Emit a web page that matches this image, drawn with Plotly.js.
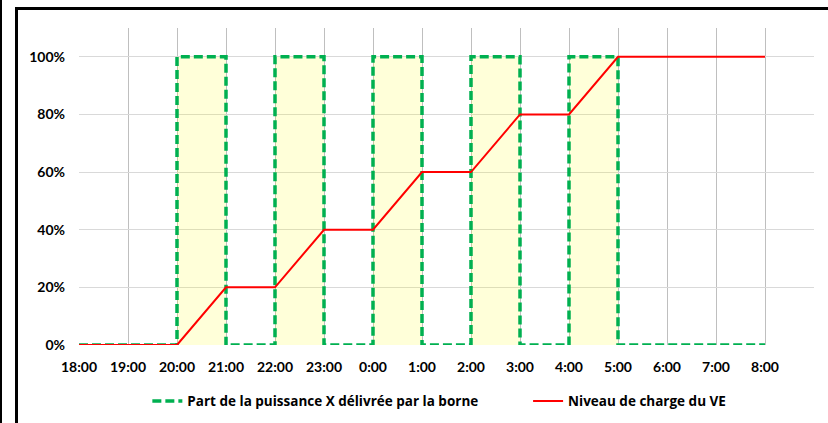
<!DOCTYPE html>
<html>
<head>
<meta charset="utf-8">
<script src="https://cdn.plot.ly/plotly-3.0.1.min.js"></script>
<style>
html,body{margin:0;padding:0;background:#fff;}
#wrap{position:relative;width:828px;height:423px;overflow:hidden;}
#chart{position:absolute;left:0;top:0;width:828px;height:423px;}
#f1{position:absolute;left:0;top:0;width:2px;height:423px;background:#000;}
#f2{position:absolute;left:15px;top:7px;width:813px;height:416px;border-left:3px solid #000;border-top:3px solid #000;box-sizing:border-box;pointer-events:none;}
</style>
</head>
<body>
<div id="wrap">
<div id="chart"></div>
<div id="f1"></div>
<div id="f2"></div>
</div>
<script>
// Data
const hours = ["18:00","19:00","20:00","21:00","22:00","23:00","0:00","1:00","2:00","3:00","4:00","5:00","6:00","7:00","8:00"];
const puissance = [0,0,1,0,1,0,1,0,1,0,1,0,0,0,0];
const niveauCharge = [0,0,0,0.2,0.2,0.4,0.4,0.6,0.6,0.8,0.8,1,1,1,1];
const yTicks = [0,0.2,0.4,0.6,0.8,1];
const yTickText = ["0%","20%","40%","60%","80%","100%"];
const seriesNames = ["Part de la puissance X délivrée par la borne","Niveau de charge du VE"];

const xIdx = hours.map((h,i)=>i);
const font = {family:"Lato, 'Liberation Sans', sans-serif", size:14, color:"#000", weight:700};
const legendFont = {family:"'Open Sans', Lato, sans-serif", size:13.5, color:"#000", weight:700};

const traces = [
  {x:xIdx, y:puissance, type:"scatter", mode:"lines", line:{shape:"hv", width:0, color:"rgba(0,0,0,0)"},
   fill:"tozeroy", fillcolor:"rgba(255,255,0,0.15)", showlegend:false, hoverinfo:"skip"},
  {x:xIdx, y:puissance, type:"scatter", mode:"lines", name:seriesNames[0], legend:"legend",
   line:{shape:"hv", color:"#00b050", width:3.5, dash:"9px,4px"}},
  {x:xIdx, y:niveauCharge, type:"scatter", mode:"lines", name:seriesNames[1], legend:"legend2",
   line:{color:"#ff0000", width:2}}
];

const layout = {
  width:828, height:423,
  margin:{l:79, r:14, t:28, b:78, autoexpand:false},
  paper_bgcolor:"#fff", plot_bgcolor:"#fff",
  font:font,
  showlegend:true,
  legend:{orientation:"h", x:0.093, xanchor:"left", y:-0.177, yanchor:"middle",
          font:legendFont, bgcolor:"rgba(0,0,0,0)"},
  legend2:{orientation:"h", x:0.611, xanchor:"left", y:-0.177, yanchor:"middle",
          font:legendFont, bgcolor:"rgba(0,0,0,0)"},
  xaxis:{range:[0,15], tickmode:"array", tickvals:xIdx, ticktext:hours,
         showgrid:true, gridcolor:"#bfbfbf", gridwidth:1, zeroline:false,
         showline:false, ticks:"", ticklabelstandoff:12, tickfont:font, fixedrange:true},
  yaxis:{range:[0,1.1], tickmode:"array", tickvals:yTicks, ticktext:yTickText,
         showgrid:true, gridcolor:"#d9d9d9", gridwidth:1, zeroline:false,
         showline:false, ticks:"", ticklabelstandoff:13, tickfont:font, fixedrange:true}
};

Plotly.newPlot("chart", traces, layout, {displayModeBar:false, staticPlot:true});
</script>
</body>
</html>
